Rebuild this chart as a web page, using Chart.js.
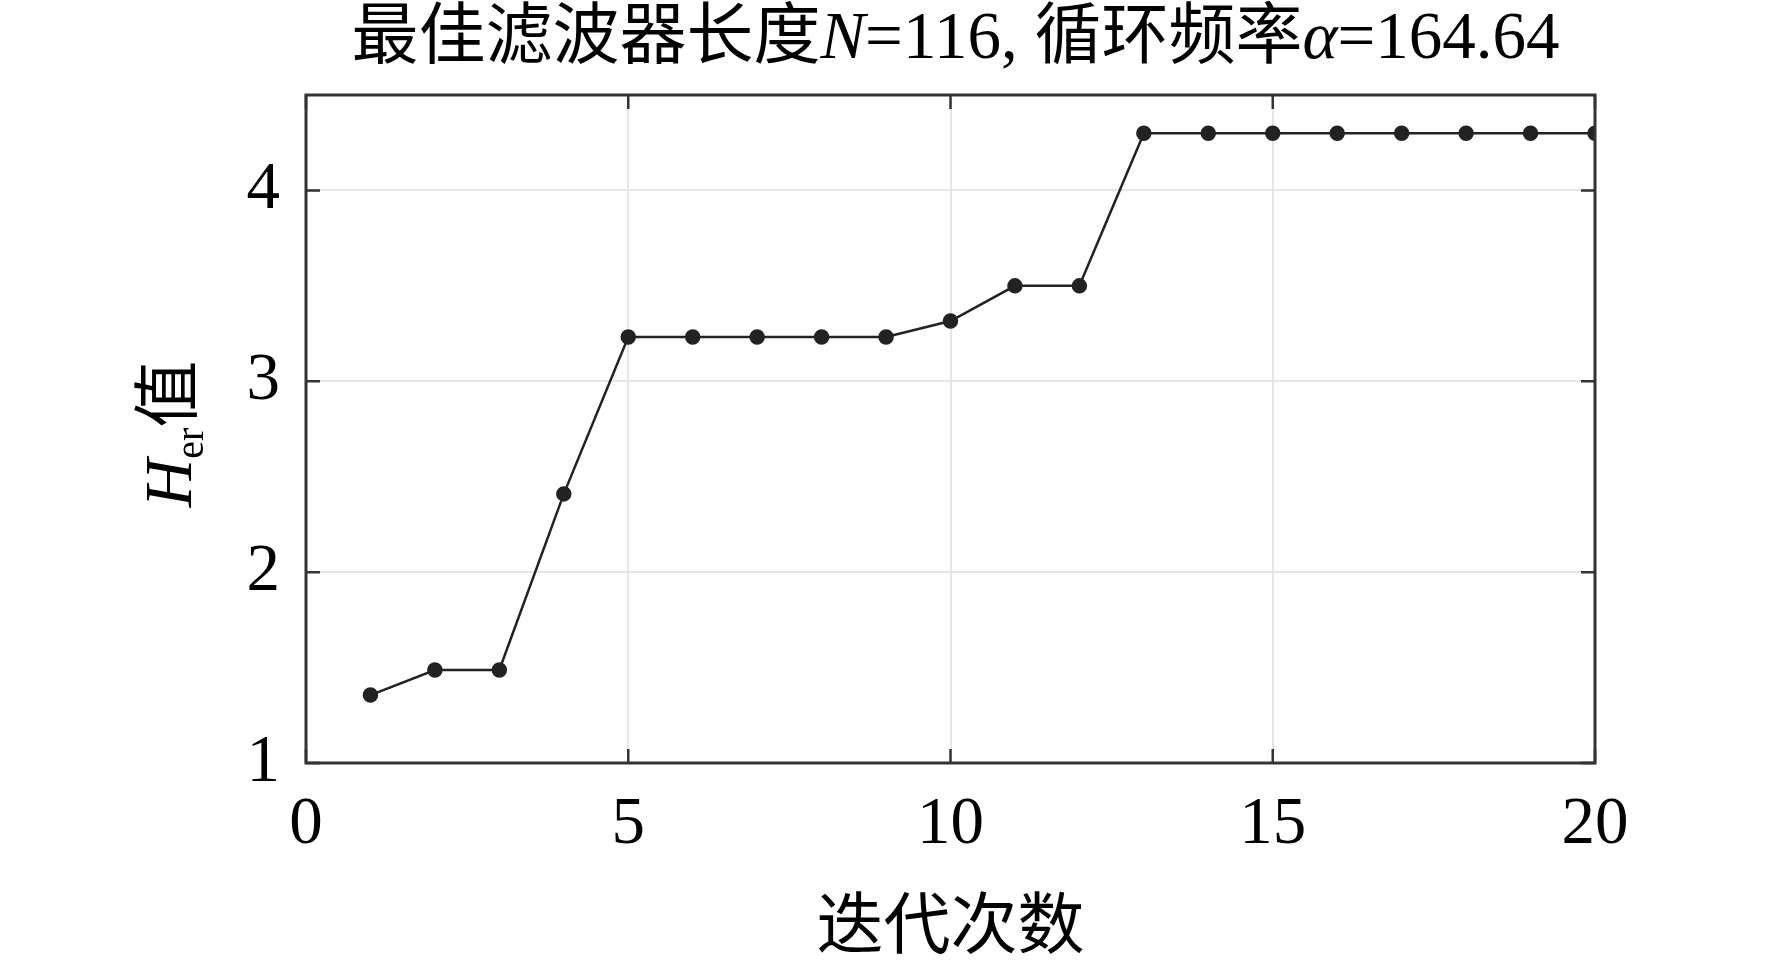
<!DOCTYPE html>
<html>
<head>
<meta charset="utf-8">
<title>H_er 值随迭代次数变化</title>
<script src="https://cdn.jsdelivr.net/npm/chart.js@4.4.1/dist/chart.umd.min.js"></script>
<style>
  html, body { margin: 0; padding: 0; background: #fff; }
  #wrap { width: 1772px; height: 963px; }
</style>
</head>
<body>
<div id="wrap"><canvas id="herChart" width="1772" height="963"></canvas></div>
<script>
// --- data ---
const iterations = [1, 2, 3, 4, 5, 6, 7, 8, 9, 10, 11, 12, 13, 14, 15, 16, 17, 18, 19, 20];
const herValues = [1.356, 1.487, 1.487, 2.41, 3.232, 3.232, 3.232, 3.232, 3.232, 3.316,
                   3.50, 3.50, 4.30, 4.30, 4.30, 4.30, 4.30, 4.30, 4.30, 4.30];
const xTickValues = [0, 5, 10, 15, 20];
const yTickValues = [1, 2, 3, 4];

const titleParts = [
    { text: '最佳滤波器长度', kind: 'cjk' },
    { text: 'N', kind: 'italic' },
    { text: '=116, ', kind: 'serif' },
    { text: '循环频率', kind: 'cjk' },
    { text: 'α', kind: 'italic' },
    { text: '=164.64', kind: 'serif' }
];
const yLabelParts = [
    { text: 'H', kind: 'italic' },
    { text: 'er', kind: 'sub' },
    { text: '值', kind: 'cjk' }
];
const xLabel = '迭代次数';

const SERIF = '"Liberation Serif", "Times New Roman", serif';
const CJK = '"Noto Sans CJK SC", "Noto Sans CJK JP", sans-serif';
const FRAME = '#333333';

function fontFor(kind, size) {
    if (kind === 'cjk') return `${size}px ${CJK}`;
    if (kind === 'italic') return `italic ${size}px ${SERIF}`;
    if (kind === 'sub') return `${Math.round(size * 0.6)}px ${SERIF}`;
    return `${size}px ${SERIF}`;
}

// draws a run of mixed-font text centred on (0,0) of current transform
function drawRich(ctx, parts, size) {
    ctx.textBaseline = 'alphabetic';
    const widths = parts.map(p => { ctx.font = fontFor(p.kind, size); return ctx.measureText(p.text).width; });
    const total = widths.reduce((a, b) => a + b, 0);
    let x = -total / 2;
    const base = size * 0.34;
    parts.forEach((p, i) => {
        ctx.font = fontFor(p.kind, size);
        ctx.fillText(p.text, x, p.kind === 'sub' ? base + size * 0.18 : base);
        x += widths[i];
    });
}

const textAndFrame = {
    id: 'textAndFrame',
    afterDraw(chart) {
        const { ctx, chartArea: a, scales } = chart;
        ctx.save();
        // frame
        ctx.strokeStyle = FRAME;
        ctx.lineWidth = 3;
        ctx.strokeRect(a.left, a.top, a.right - a.left, a.bottom - a.top);
        // inward ticks on all four sides
        const len = 14;
        ctx.lineWidth = 2.5;
        ctx.beginPath();
        xTickValues.forEach(v => {
            const px = scales.x.getPixelForValue(v);
            ctx.moveTo(px, a.bottom); ctx.lineTo(px, a.bottom - len);
            ctx.moveTo(px, a.top); ctx.lineTo(px, a.top + len);
        });
        yTickValues.forEach(v => {
            const py = scales.y.getPixelForValue(v);
            ctx.moveTo(a.left, py); ctx.lineTo(a.left + len, py);
            ctx.moveTo(a.right, py); ctx.lineTo(a.right - len, py);
        });
        ctx.stroke();

        ctx.fillStyle = '#000';
        // title
        ctx.save();
        ctx.translate((a.left + a.right) / 2 + 5, 35);
        drawRich(ctx, titleParts, 67);
        ctx.restore();
        // y label
        ctx.save();
        ctx.translate(168, 434);
        ctx.rotate(-Math.PI / 2);
        drawRich(ctx, yLabelParts, 67);
        ctx.restore();
        ctx.restore();
    }
};

new Chart(document.getElementById('herChart').getContext('2d'), {
    type: 'line',
    data: {
        datasets: [{
            data: iterations.map((it, i) => ({ x: it, y: herValues[i] })),
            borderColor: '#222',
            backgroundColor: '#222',
            borderWidth: 2.5,
            pointRadius: 6.5,
            pointBackgroundColor: '#222',
            pointBorderColor: '#222',
            tension: 0
        }]
    },
    options: {
        responsive: false,
        animation: false,
        devicePixelRatio: 1,
        layout: { padding: { top: 95, right: 177, left: 0, bottom: 0 } },
        plugins: {
            legend: { display: false },
            tooltip: { enabled: false },
            title: { display: false }
        },
        scales: {
            x: {
                type: 'linear',
                min: 0,
                max: 20,
                afterBuildTicks: s => { s.ticks = xTickValues.map(v => ({ value: v })); },
                afterFit: s => { s.height = 200; },
                ticks: { font: { family: SERIF, size: 67 }, color: '#000', padding: 22, maxRotation: 0 },
                grid: { color: '#e6e6e6', lineWidth: 2, drawTicks: false },
                border: { display: false },
                title: {
                    display: true,
                    text: xLabel,
                    font: { family: CJK, size: 67 },
                    color: '#000',
                    padding: { top: 0, bottom: 0 }
                }
            },
            y: {
                min: 1,
                max: 4.5,
                afterBuildTicks: s => { s.ticks = yTickValues.map(v => ({ value: v })); },
                afterFit: s => { s.width = 306; },
                ticks: { font: { family: SERIF, size: 67 }, color: '#000', padding: 26 },
                grid: { color: '#e6e6e6', lineWidth: 2, drawTicks: false },
                border: { display: false }
            }
        }
    },
    plugins: [textAndFrame]
});
</script>
</body>
</html>
